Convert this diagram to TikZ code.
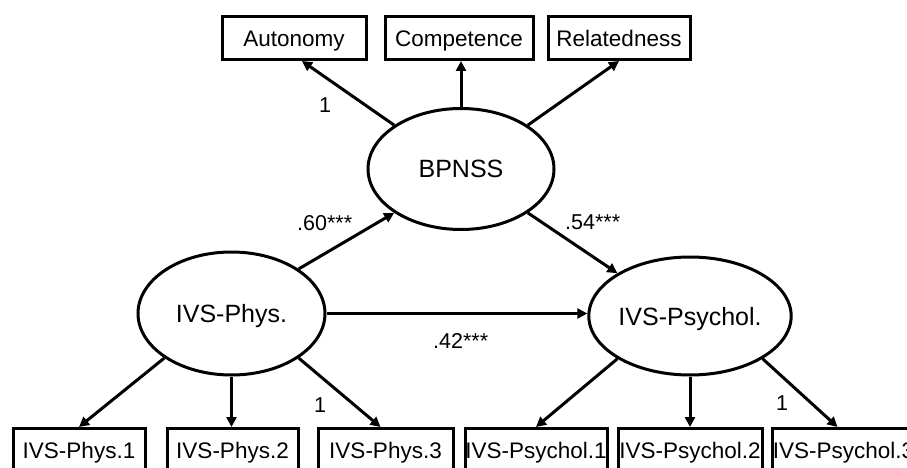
\documentclass[tikz,border=0pt]{standalone}
\usepackage{fontspec}
\setmainfont{Liberation Sans}
\usetikzlibrary{shapes.geometric,arrows.meta,calc}
\begin{document}
\begin{tikzpicture}[x=1pt,y=-1pt,
 obs/.style={draw,line width=3pt,inner sep=0pt,anchor=north,text height=30pt,font=\fontsize{22.5}{24}\selectfont},
 topbox/.style={obs,text depth=13pt},
 botbox/.style={obs,text depth=20pt},
 lat/.style={draw,ellipse,line width=3pt,inner sep=0pt,text depth=0pt,font=\fontsize{25}{27}\selectfont},
 sem/.style={line width=3pt,-{Triangle[length=10pt,width=10pt]}},
 coef/.style={anchor=base west,inner sep=0pt,font=\fontsize{21.5}{23}\selectfont}]
\useasboundingbox (0,0) rectangle (907,468);
\clip (0,0) rectangle (907,468);

\node[topbox,minimum width=144pt] (aut) at (294,15) {Autonomy};
\node[topbox,minimum width=148pt] (com) at (459,15) {Competence};
\node[topbox,minimum width=142pt] (rel) at (619,15) {Relatedness};

\node[lat,minimum width=186pt,minimum height=121pt] (B) at (461,169) {BPNSS};
\node[lat,minimum width=187pt,minimum height=123pt] (P) at (231.5,313.5) {IVS-Phys.};
\node[lat,minimum width=186pt,minimum height=118pt] (Q) at (690,316) {IVS-Psychol.};

\node[botbox,minimum width=132pt] (p1) at (79,427) {IVS-Phys.1};
\node[botbox,minimum width=131pt] (p2) at (232.5,427) {IVS-Phys.2};
\node[botbox,minimum width=135pt] (p3) at (385.5,427) {IVS-Phys.3};
\node[botbox,minimum width=142pt] (q1) at (536,427) {IVS-Psychol.1};
\node[botbox,minimum width=144pt] (q2) at (690,427) {IVS-Psychol.2};
\node[botbox,minimum width=143pt] (q3) at (843.5,427) {IVS-Psychol.3};

\draw[sem] (B.north west) -- ([xshift=8pt]aut.south);
\draw[sem] (B.north) -- (B.north |- com.south);
\draw[sem] (B.north east) -- (rel.south);
\draw[sem] (P.north east) -- (B.south west);
\draw[sem] (B.south east) -- (Q.north west);
\draw[sem] (P.east) -- (P.east -| Q.west);
\draw[sem] (P.south west) -- (p1.north);
\draw[sem] (P.south) -- (P.south |- p2.north);
\draw[sem] (P.south east) -- ([xshift=-5pt]p3.north);
\draw[sem] (Q.south west) -- (q1.north);
\draw[sem] (Q.south) -- (Q.south |- q2.north);
\draw[sem] (Q.south east) -- ([xshift=-6pt]q3.north);

\node[coef] (l1) at (297,230) {.60***};
\node[coef] (l2) at (565,229) {.54***};
\node[coef] (l3) at (433,348) {.42***};
\node[coef] (l4) at (319,113) {1};
\node[coef] (l5) at (314,412) {1};
\node[coef] (l6) at (776,410) {1};
\end{tikzpicture}
\end{document}
